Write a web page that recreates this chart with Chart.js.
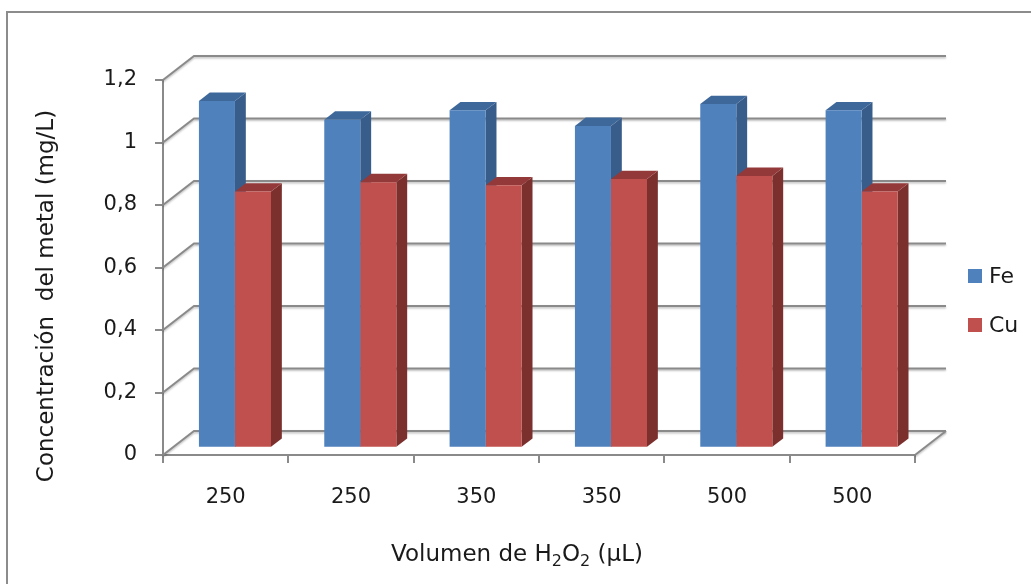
<!DOCTYPE html>
<html>
<head>
<meta charset="utf-8">
<script src="https://cdn.jsdelivr.net/npm/chart.js@4"></script>
<style>
  body { margin: 0; background: #fff; }
  #wrap { width: 1031px; height: 584px; position: relative; }
</style>
</head>
<body>
<div id="wrap"><canvas id="chart"></canvas></div>
<script>
const categories = ["250", "250", "350", "350", "500", "500"];
const feValues = [1.11, 1.05, 1.08, 1.03, 1.1, 1.08];
const cuValues = [0.82, 0.85, 0.84, 0.86, 0.87, 0.82];
const yTickLabels = ["0", "0,2", "0,4", "0,6", "0,8", "1", "1,2"];
const seriesNames = ["Fe", "Cu"];

const FONT = "'DejaVu Sans', sans-serif";
const gridColor = "#8a8a8a";
// depth of the 3d box, and where the bars sit inside it
const depth = { dx: 31, dy: -24 };
const barFront = 0.3;
const barBack = 0.65;

const faceColors = [
  { side: "#385d8a", top: "#3e6899" },
  { side: "#7b302e", top: "#93393a" },
];

function line(ctx, pts) {
  ctx.beginPath();
  ctx.moveTo(pts[0][0], pts[0][1]);
  for (let i = 1; i < pts.length; i++) ctx.lineTo(pts[i][0], pts[i][1]);
  ctx.stroke();
}

function poly(ctx, pts, color) {
  ctx.beginPath();
  ctx.moveTo(pts[0][0], pts[0][1]);
  for (let i = 1; i < pts.length; i++) ctx.lineTo(pts[i][0], pts[i][1]);
  ctx.closePath();
  ctx.fillStyle = color;
  ctx.fill();
}

const box3d = {
  id: "box3d",
  beforeDraw(chart) {
    const ctx = chart.ctx;
    ctx.save();
    ctx.strokeStyle = "#8c8c8c";
    ctx.lineWidth = 2;
    ctx.strokeRect(7, 12, 1100, 700);
    ctx.restore();
  },
  beforeDatasetsDraw(chart) {
    const ctx = chart.ctx;
    const area = chart.chartArea;
    const yScale = chart.scales.y;

    // walls and floor
    ctx.save();
    ctx.strokeStyle = gridColor;
    ctx.lineWidth = 2;
    ctx.shadowColor = "rgba(0,0,0,0.25)";
    ctx.shadowOffsetY = 1.5;
    ctx.shadowBlur = 2;
    yScale.ticks.forEach((t) => {
      const y = yScale.getPixelForValue(t.value);
      const bx = area.left + depth.dx;
      const by = y + depth.dy;
      line(ctx, [[area.left, y], [bx, by], [area.right + depth.dx, by]]);
    });
    line(ctx, [[area.right, area.bottom], [area.right + depth.dx, area.bottom + depth.dy]]);
    ctx.restore();

    // side and top faces
    const fx = depth.dx * barFront, fy = depth.dy * barFront;
    const bdx = depth.dx * (barBack - barFront), bdy = depth.dy * (barBack - barFront);
    for (let i = 0; i < categories.length; i++) {
      chart.data.datasets.forEach((ds, d) => {
        const el = chart.getDatasetMeta(d).data[i];
        const p = el.getProps(["x", "y", "base", "width"], true);
        const left = p.x - p.width / 2 + fx;
        const right = p.x + p.width / 2 + fx;
        const top = p.y + fy;
        const bottom = p.base + fy;
        poly(ctx, [[right, top], [right + bdx, top + bdy], [right + bdx, bottom + bdy], [right, bottom]], faceColors[d].side);
        poly(ctx, [[left, top], [right, top], [right + bdx, top + bdy], [left + bdx, top + bdy]], faceColors[d].top);
      });
    }

    ctx.save();
    ctx.translate(fx, fy);
  },
  afterDatasetsDraw(chart) {
    chart.ctx.restore();
  },
  afterDraw(chart) {
    const ctx = chart.ctx;
    ctx.save();
    ctx.fillStyle = "#1a1a1a";
    ctx.textBaseline = "middle";

    // y title
    ctx.save();
    ctx.translate(47, 296);
    ctx.rotate(-Math.PI / 2);
    ctx.textAlign = "center";
    ctx.font = "23px " + FONT;
    ctx.fillText("Concentración  del metal (mg/L)", 0, 0);
    ctx.restore();

    // x title with subscripts
    const runs = [
      ["Volumen de H", false], ["2", true], ["O", false], ["2", true], [" (µL)", false],
    ];
    const big = "23px " + FONT, small = "16px " + FONT;
    let total = 0;
    runs.forEach((r) => {
      ctx.font = r[1] ? small : big;
      total += ctx.measureText(r[0]).width;
    });
    let x = 517 - total / 2;
    ctx.textAlign = "left";
    runs.forEach((r) => {
      ctx.font = r[1] ? small : big;
      ctx.fillText(r[0], x, r[1] ? 562 : 555);
      x += ctx.measureText(r[0]).width;
    });

    // legend
    chart.data.datasets.forEach((ds, d) => {
      const y = 269 + d * 49;
      ctx.fillStyle = ds.backgroundColor;
      ctx.fillRect(968, y, 14, 14);
      ctx.fillStyle = "#1a1a1a";
      ctx.font = "22px " + FONT;
      ctx.fillText(ds.label, 989, y + 8);
    });
    ctx.restore();
  },
};

new Chart(document.getElementById("chart"), {
  type: "bar",
  data: {
    labels: categories,
    datasets: [
      { label: seriesNames[0], data: feValues, backgroundColor: "#4f81bd" },
      { label: seriesNames[1], data: cuValues, backgroundColor: "#c0504d" },
    ],
  },
  options: {
    responsive: true,
    maintainAspectRatio: false,
    animation: false,
    events: [],
    layout: { padding: { left: 0, top: 80, right: 116, bottom: 0 } },
    datasets: {
      bar: { categoryPercentage: 0.575, barPercentage: 1.0, borderWidth: 0, clip: false },
    },
    plugins: {
      legend: { display: false },
      tooltip: { enabled: false },
    },
    scales: {
      x: {
        afterFit(scale) { scale.height = 129; },
        grid: { drawOnChartArea: false, tickLength: 8, color: gridColor, lineWidth: 2 },
        border: { color: gridColor, width: 2 },
        ticks: { padding: 22, color: "#1a1a1a", font: { family: FONT, size: 21 } },
      },
      y: {
        min: 0,
        max: 1.2,
        afterFit(scale) { scale.width = 163; },
        grid: { drawOnChartArea: false, tickLength: 8, color: gridColor, lineWidth: 2 },
        border: { color: gridColor, width: 2 },
        ticks: {
          stepSize: 0.2,
          padding: 18,
          color: "#1a1a1a",
          font: { family: FONT, size: 21 },
          callback: (value, index) => yTickLabels[index],
        },
      },
    },
  },
  plugins: [box3d],
});
</script>
</body>
</html>
